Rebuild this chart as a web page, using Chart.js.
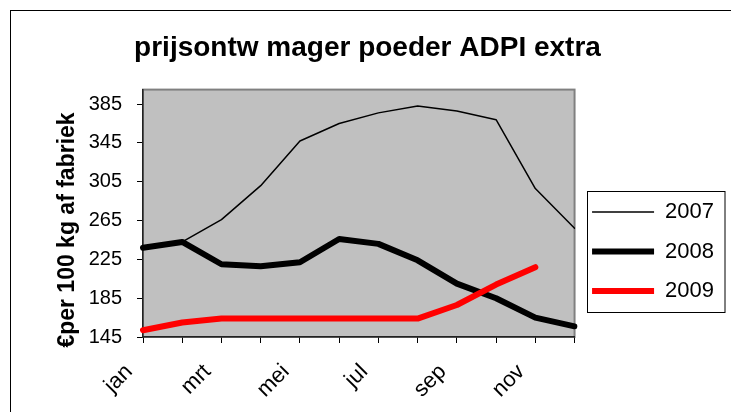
<!DOCTYPE html>
<html>
<head>
<meta charset="UTF-8">
<title>prijsontw mager poeder ADPI extra</title>
<script src="https://cdn.jsdelivr.net/npm/chart.js"></script>
<style>
	body { margin: 0; background: #fff; }
	#wrap { width: 731px; height: 412px; overflow: hidden; }
</style>
</head>
<body>
<!-- the reference is a crop of a taller chart, so the canvas runs on below the window -->
<div id="wrap"><canvas id="myChart" width="731" height="493"></canvas></div>
<script>
	// months on the x axis, only every other one gets a label
	let months = ['jan','feb','mrt','apr','mei','jun','jul','aug','sep','okt','nov','dec'];
	let shownMonths = ['jan','mrt','mei','jul','sep','nov'];
	let yTicks = [145, 185, 225, 265, 305, 345, 385];

	let prices2007 = [237, 243, 266, 301, 347, 365, 376, 383, 378, 369, 298, 257];
	let prices2008 = [237, 243, 220, 218, 222, 246, 241, 224, 200, 185, 165, 156];
	let prices2009 = [152, 160, 164, 164, 164, 164, 164, 164, 178, 199, 217, null];

	let chartTitle = 'prijsontw mager poeder ADPI extra';
	let yTitle = '\u20ACper 100 kg af fabriek';

	let fontFam = "'Liberation Sans', Arial, sans-serif";
	Chart.defaults.font.family = fontFam;
	Chart.defaults.color = '#000';

	// frame, grey plot area, legend box, rotated y title
	let decor = {
		id: 'decor',
		beforeDraw: function(chart){
			let ctx = chart.ctx;
			let a = chart.chartArea;
			ctx.save();
			ctx.strokeStyle = '#000';
			ctx.lineWidth = 1;
			ctx.strokeRect(10.5, 10.5, 800, 500);
			ctx.fillStyle = '#c0c0c0';
			ctx.fillRect(a.left, a.top, a.right - a.left, a.bottom - a.top);
			ctx.strokeStyle = '#808080';
			ctx.lineWidth = 2;
			ctx.strokeRect(a.left, a.top, a.right - a.left, a.bottom - a.top);
			ctx.restore();
		},
		afterDraw: function(chart){
			let ctx = chart.ctx;
			let hb = chart.legend.legendHitBoxes;
			ctx.save();
			ctx.strokeStyle = '#000';
			ctx.lineWidth = 1;
			let bx = Math.round(hb[0].left - 5) + 0.5;
			let by = Math.round(hb[0].top - 10) + 0.5;
			let bb = Math.round(hb[hb.length - 1].top + hb[hb.length - 1].height + 10) + 0.5;
			ctx.strokeRect(bx, by, 725 - bx, bb - by);

			ctx.translate(68, 230);
			ctx.rotate(-Math.PI / 2);
			ctx.font = 'bold 23px ' + fontFam;
			ctx.fillStyle = '#000';
			ctx.textAlign = 'center';
			ctx.textBaseline = 'middle';
			ctx.fillText(yTitle, 0, 0);
			ctx.restore();
		}
	};

	new Chart('myChart', {
		type: 'line',
		data: {
			labels: months,
			datasets: [
				{ label: '2007', data: prices2007, borderColor: '#000', backgroundColor: '#000', borderWidth: 1.5, order: 3 },
				{ label: '2008', data: prices2008, borderColor: '#000', backgroundColor: '#000', borderWidth: 6, order: 2 },
				{ label: '2009', data: prices2009, borderColor: '#ff0000', backgroundColor: '#ff0000', borderWidth: 6, order: 1 }
			]
		},
		options: {
			responsive: false,
			animation: false,
			devicePixelRatio: 1,
			elements: {
				point: { radius: 0, hoverRadius: 0 },
				line: { tension: 0, borderJoinStyle: 'round', borderCapStyle: 'round', fill: false }
			},
			layout: { padding: { left: 11, top: 10, right: 7, bottom: 0 } },
			plugins: {
				tooltip: { enabled: false },
				title: {
					display: true,
					text: chartTitle,
					color: '#000',
					font: { size: 28, weight: 'bold' },
					padding: { top: 21, bottom: 25 }
				},
				legend: {
					position: 'right',
					labels: {
						color: '#000',
						font: { size: 22 },
						usePointStyle: true,
						pointStyle: 'line',
						pointStyleWidth: 62,
						padding: 17.5,
						sort: function(a, b){ return a.datasetIndex - b.datasetIndex; }
					}
				}
			},
			scales: {
				x: {
					offset: false,
					grid: { drawOnChartArea: false, drawTicks: true, tickLength: 6, color: '#000' },
					border: { color: '#222', width: 1.5 },
					ticks: {
						autoSkip: false,
						minRotation: 45,
						maxRotation: 45,
						padding: 16,
						labelOffset: -14,
						font: { size: 22 },
						callback: function(val, i){
							return shownMonths.includes(months[i]) ? months[i] : '';
						}
					},
					afterFit: function(scale){ scale.height = 156; }
				},
				y: {
					min: 145,
					max: 400,
					grid: { drawOnChartArea: false, drawTicks: true, tickLength: 6, color: '#000' },
					border: { color: '#222', width: 1.5 },
					ticks: { padding: 15, font: { size: 20 } },
					afterBuildTicks: function(scale){
						scale.ticks = yTicks.map(function(v){ return { value: v }; });
					},
					afterFit: function(scale){ scale.width = 132; }
				}
			}
		},
		plugins: [decor]
	});
</script>
</body>
</html>
